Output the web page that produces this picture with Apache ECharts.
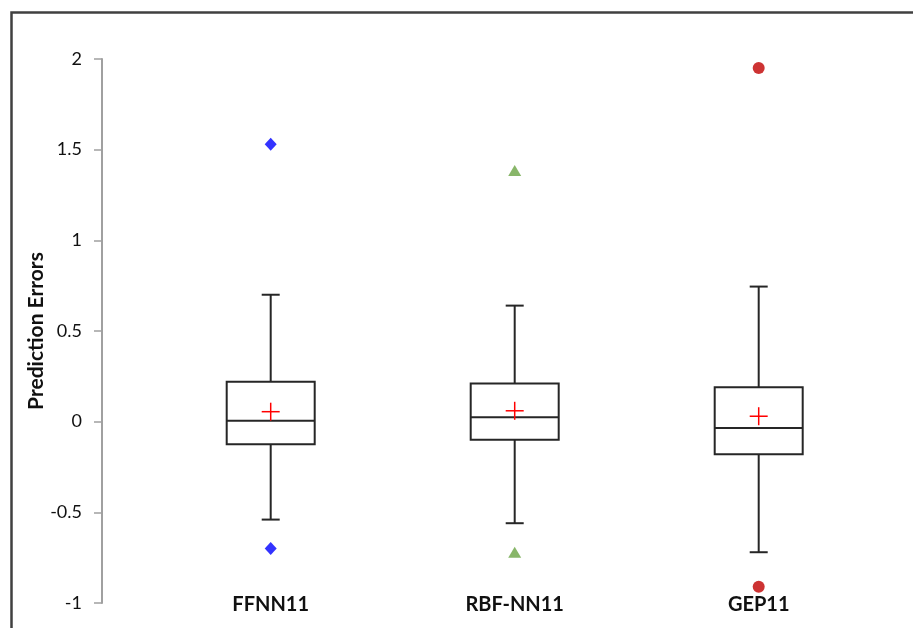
<!DOCTYPE html>
<html>
<head>
<meta charset="utf-8">
<script src="https://cdn.jsdelivr.net/npm/echarts@6/dist/echarts.min.js"></script>
<style>
  html, body { margin: 0; padding: 0; background: #fff; }
  #chart { width: 913px; height: 628px; }
</style>
</head>
<body>
<div id="chart"></div>
<script>
// Models compared
const categories = ['FFNN11', 'RBF-NN11', 'GEP11'];

// Box-plot statistics per model
const whiskerLow = [-0.54, -0.56, -0.72];
const q1 = [-0.125, -0.10, -0.18];
const median = [0.005, 0.025, -0.035];
const q3 = [0.22, 0.21, 0.19];
const whiskerHigh = [0.70, 0.64, 0.745];
const means = [0.055, 0.06, 0.03];

// Outliers per model
const outliersFFNN = [1.53, -0.70];
const outliersRBF = [1.385, -0.72];
const outliersGEP = [1.95, -0.91];

// Y-axis ticks
const yMin = -1;
const yMax = 2;
const yStep = 0.5;

const boxData = categories.map((c, i) => [i, whiskerLow[i], q1[i], median[i], q3[i], whiskerHigh[i]]);
const meanData = categories.map((c, i) => [i, means[i]]);

const chart = echarts.init(document.getElementById('chart'));

const boxHalf = 44;
const capHalf = 9;
const lineStyle = { stroke: '#262626', lineWidth: 2, fill: null };

function renderBox(params, api) {
  const x = api.value(0);
  const pLow = api.coord([x, api.value(1)]);
  const pQ1 = api.coord([x, api.value(2)]);
  const pMed = api.coord([x, api.value(3)]);
  const pQ3 = api.coord([x, api.value(4)]);
  const pHigh = api.coord([x, api.value(5)]);
  const cx = pMed[0];
  const seg = (x1, y1, x2, y2) => ({ type: 'line', shape: { x1, y1, x2, y2 }, style: lineStyle });
  return {
    type: 'group',
    children: [
      seg(cx, pHigh[1], cx, pQ3[1]),
      seg(cx, pQ1[1], cx, pLow[1]),
      seg(cx - capHalf, pHigh[1], cx + capHalf, pHigh[1]),
      seg(cx - capHalf, pLow[1], cx + capHalf, pLow[1]),
      { type: 'rect', shape: { x: cx - boxHalf, y: pQ3[1], width: boxHalf * 2, height: pQ1[1] - pQ3[1] }, style: { stroke: '#262626', lineWidth: 2, fill: '#fff' } },
      seg(cx - boxHalf, pMed[1], cx + boxHalf, pMed[1])
    ]
  };
}

function renderMean(params, api) {
  const p = api.coord([api.value(0), api.value(1)]);
  const s = { stroke: '#ff0000', lineWidth: 1.5 };
  return {
    type: 'group',
    children: [
      { type: 'line', shape: { x1: p[0] - 9, y1: p[1], x2: p[0] + 9, y2: p[1] }, style: s },
      { type: 'line', shape: { x1: p[0], y1: p[1] - 9, x2: p[0], y2: p[1] + 9 }, style: s }
    ]
  };
}

const labelFont = 'Lato, "Open Sans", sans-serif';

chart.setOption({
  animation: false,
  backgroundColor: '#fff',
  graphic: [{
    type: 'rect',
    shape: { x: 11.5, y: 12.5, width: 960, height: 700 },
    style: { fill: null, stroke: '#404040', lineWidth: 2.5 },
    silent: true
  }],
  grid: { left: 148.7, top: 59, width: 732, height: 544 },
  xAxis: {
    type: 'category',
    data: categories,
    axisLine: { show: false },
    axisTick: { show: false },
    axisLabel: {
      margin: -8,
      color: '#111',
      fontFamily: labelFont,
      fontWeight: 'bold',
      fontSize: 20
    }
  },
  yAxis: [{
    type: 'value',
    min: yMin,
    max: yMax,
    interval: yStep,
    offset: 46.7,
    name: 'Prediction Errors',
    nameLocation: 'middle',
    nameGap: 55,
    nameMoveOverlap: false,
    nameTextStyle: { fontFamily: labelFont, fontWeight: 'bold', fontSize: 21, color: '#111' },
    axisLine: { show: true, lineStyle: { color: '#a0a0a0', width: 2 } },
    axisTick: { show: true, length: 8, lineStyle: { color: '#a0a0a0', width: 1.5 } },
    axisLabel: { margin: 20, color: '#111', fontFamily: labelFont, fontSize: 18 },
    splitLine: { show: false }
  }, {
    type: 'value',
    min: yMin,
    max: yMax,
    interval: yStep,
    offset: 46.7,
    axisLine: { show: false },
    axisTick: { show: true, inside: true, length: 8, lineStyle: { color: '#a0a0a0', width: 1.5 } },
    axisLabel: { show: false },
    splitLine: { show: false }
  }],
  series: [
    {
      type: 'custom',
      renderItem: renderBox,
      data: boxData,
      encode: { x: 0, y: [1, 2, 3, 4, 5] },
      z: 2
    },
    {
      type: 'custom',
      renderItem: renderMean,
      data: meanData,
      encode: { x: 0, y: 1 },
      z: 3
    },
    {
      type: 'scatter',
      symbol: 'diamond',
      symbolSize: [12, 13],
      itemStyle: { color: '#0000ff' },
      data: outliersFFNN.map(v => [0, v])
    },
    {
      type: 'scatter',
      symbol: 'triangle',
      symbolSize: [13, 11],
      itemStyle: { color: '#6aa443' },
      data: outliersRBF.map(v => [1, v])
    },
    {
      type: 'scatter',
      symbol: 'circle',
      symbolSize: 12,
      itemStyle: { color: '#c00000' },
      data: outliersGEP.map(v => [2, v])
    }
  ]
});
</script>
</body>
</html>
